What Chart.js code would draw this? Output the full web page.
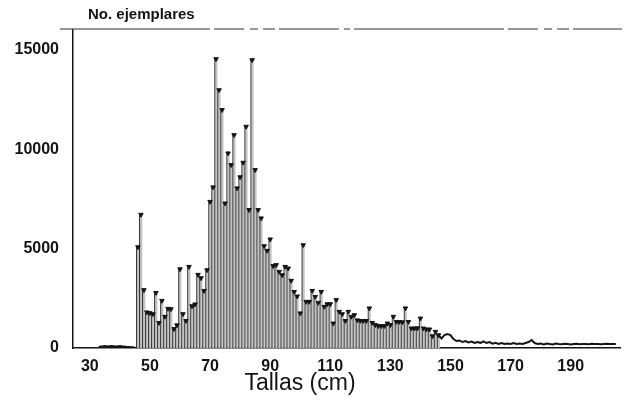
<!DOCTYPE html>
<html>
<head>
<meta charset="utf-8">
<script src="https://cdn.jsdelivr.net/npm/chart.js@4"></script>
<style>
  html, body { margin: 0; background: #fff; }
</style>
</head>
<body>
<canvas id="chart" width="625" height="405"></canvas>
<script>
// histogram, one bar per cm from 46 cm
const firstSize = 46;
const counts = [
  5080, 6710, 2920, 1800, 1760, 1710, 2780, 1270, 2380, 1580,
  1980, 1960, 960, 1150, 3970, 1710, 1370, 4090, 2110, 2200,
  3690, 3520, 2880, 3920, 7360, 8090, 14540, 12980, 11980, 7280,
  9800, 9210, 10720, 8040, 8600, 9330, 11140, 6950, 14490, 8960,
  6950, 6530, 5130, 4900, 5470, 4130, 4180, 3840, 3670, 4090,
  4010, 3390, 2830, 2600, 1750, 5180, 2330, 2330, 2880, 2580,
  2280, 2830, 2080, 2210, 2210, 1240, 2420, 1830, 1710, 1370,
  1830, 1580, 1660, 1400, 1370, 1370, 1370, 2000, 1270, 1160,
  1110, 1110, 1110, 1240, 1160, 1580, 1320, 1320, 1300, 2000,
  1320, 990, 990, 1000, 1490, 990, 940, 940, 600, 820,
  650
];

// low counts drawn as a line before and after the bars
const headStart = 33;
const headCounts = [60, 80, 100, 80, 100, 90, 80, 100, 80, 60, 50, 40, 30];
const tailStart = 146;
const tailCounts = [
  650, 480, 650, 700, 650, 450, 350, 380, 300, 350,
  280, 320, 250, 300, 260, 330, 250, 300, 220, 260,
  200, 250, 200, 230, 200, 250, 200, 220, 200, 250,
  300, 400, 250, 200, 220, 180, 220, 200, 180, 220,
  200, 190, 210, 200, 180, 200, 210, 190, 200, 200,
  190, 210, 200, 200, 190, 200, 210, 200, 200, 200
];

const yTicks = [0, 5000, 10000, 15000];
const xTicks = [30, 50, 70, 90, 110, 130, 150, 170, 190];

const bars = counts.map((c, i) => ({ x: firstSize + i, y: c }));
const head = headCounts.map((c, i) => ({ x: headStart + i, y: c }));
const tail = tailCounts.map((c, i) => ({ x: tailStart + i, y: c }));

const ink = "#141414";
const font = "'Liberation Sans', Arial, sans-serif";

const decor = {
  id: "decor",
  afterDraw(chart) {
    const ctx = chart.ctx;
    const area = chart.chartArea;
    ctx.save();
    ctx.fillStyle = ink;
    ctx.font = "bold 15px " + font;
    ctx.textBaseline = "alphabetic";
    ctx.textAlign = "left";
    ctx.fillText("No. ejemplares", 88, 19);
    ctx.font = "23px " + font;
    ctx.textAlign = "center";
    ctx.fillText("Tallas (cm)", 300, 390);
    // broken frame line along the top
    ctx.strokeStyle = "#333";
    ctx.lineWidth = 1.2;
    ctx.setLineDash([150, 4, 30, 6, 8, 5, 12, 4, 60, 5, 6, 4]);
    ctx.beginPath();
    ctx.moveTo(60, area.top - 1);
    ctx.lineTo(622, area.top - 1);
    ctx.stroke();
    ctx.restore();
  }
};

new Chart(document.getElementById("chart"), {
  type: "bar",
  data: {
    datasets: [
      {
        type: "line",
        data: bars,
        showLine: false,
        pointStyle: "triangle",
        rotation: 180,
        pointRadius: 2.6,
        pointBackgroundColor: ink,
        pointBorderColor: ink,
        pointBorderWidth: 1,
        order: 0
      },
      {
        type: "line",
        data: head,
        borderColor: ink,
        borderWidth: 2,
        pointRadius: 0,
        order: 1
      },
      {
        type: "line",
        data: tail,
        borderColor: ink,
        borderWidth: 2,
        pointRadius: 0,
        order: 1
      },
      {
        data: bars,
        backgroundColor: "#c4c4c4",
        borderColor: ink,
        borderWidth: { left: 1, right: 0, top: 0, bottom: 0 },
        borderSkipped: false,
        barPercentage: 1,
        categoryPercentage: 1,
        order: 2
      }
    ]
  },
  options: {
    responsive: false,
    animation: false,
    layout: { padding: { top: 30, right: 3, bottom: 0, left: 0 } },
    plugins: {
      legend: { display: false },
      tooltip: { enabled: false }
    },
    scales: {
      x: {
        type: "linear",
        offset: false,
        min: 24.4,
        max: 206.4,
        afterBuildTicks: s => { s.ticks = xTicks.map(v => ({ value: v })); },
        afterFit: s => { s.height = 57; },
        ticks: {
          autoSkip: false,
          maxRotation: 0,
          padding: 1,
          color: ink,
          font: { family: font, size: 16, weight: "bold" },
          callback: v => String(v)
        },
        grid: { display: false },
        border: { display: true, color: ink, width: 1.5 }
      },
      y: {
        min: 0,
        max: 16000,
        afterBuildTicks: s => { s.ticks = yTicks.map(v => ({ value: v })); },
        afterFit: s => { s.width = 73; },
        ticks: {
          padding: 6,
          color: ink,
          font: { family: font, size: 16, weight: "bold" },
          callback: v => String(v)
        },
        grid: { display: false },
        border: { display: true, color: ink, width: 1.5 }
      }
    }
  },
  plugins: [decor]
});
</script>
</body>
</html>
